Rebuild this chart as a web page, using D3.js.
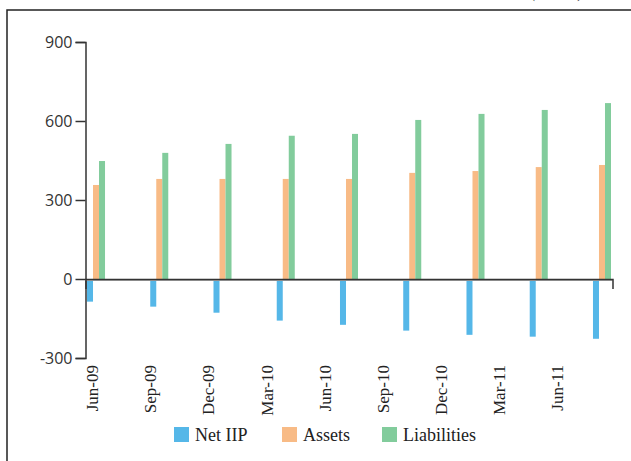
<!DOCTYPE html>
<html>
<head>
<meta charset="utf-8">
<script src="https://cdn.jsdelivr.net/npm/d3@7"></script>
<style>
  html, body { margin: 0; padding: 0; background: #fff; }
  svg { display: block; }
</style>
</head>
<body>
<svg id="chart" width="631" height="461"></svg>
<script>
// Quarter-end positions (US$ billion)
const quarters = ["Jun-09", "Sep-09", "Dec-09", "Mar-10", "Jun-10", "Sep-10", "Dec-10", "Mar-11", "Jun-11"];
const netIIP      = [-86, -105, -128, -158, -174, -196, -212, -219, -227];
const assets      = [357, 380, 380, 380, 380, 403, 410, 425, 433];
const liabilities = [448, 479, 513, 544, 551, 604, 627, 642, 668];
const seriesNames = ["Net IIP", "Assets", "Liabilities"];
const seriesColors = ["#55b7e8", "#f8bb86", "#82cc9c"];
const yTicks = [-300, 0, 300, 600, 900];

const svg = d3.select("#chart");
const serif = "'Liberation Serif', 'DejaVu Serif', serif";
const sans = "'Open Sans', 'Noto Sans', sans-serif";

// outer frame (open to the right and bottom)
svg.append("path")
  .attr("d", "M7,461 L7,10 L631,10")
  .attr("fill", "none").attr("stroke", "#222").attr("stroke-width", 1.5);

// unit note at the top right, sitting above the frame
svg.append("text")
  .attr("x", 582).attr("y", -2)
  .attr("text-anchor", "end")
  .style("font-family", serif).style("font-size", "14px").attr("fill", "#333")
  .text("(US$ bn)");

const axisLeftX = 85.5, axisRightX = 612.5;
const y = d3.scaleLinear().domain([-300, 900]).range([358, 42]);

// bar groups
const x0 = d3.scaleBand().domain(quarters).range([87, 611]).paddingInner(0.715).paddingOuter(0);
const x1 = d3.scaleBand().domain(seriesNames).range([0, x0.bandwidth()]);
const rows = quarters.map((q, i) => ({ q, values: [netIIP[i], assets[i], liabilities[i]] }));

const groups = svg.append("g").selectAll("g").data(rows).join("g")
  .attr("transform", d => `translate(${x0(d.q)},0)`);
groups.selectAll("rect")
  .data(d => d.values.map((v, k) => ({ k, v })))
  .join("rect")
  .attr("x", d => x1(seriesNames[d.k]))
  .attr("width", x1.bandwidth())
  .attr("y", d => y(Math.max(0, d.v)))
  .attr("height", d => Math.abs(y(d.v) - y(0)))
  .attr("fill", d => seriesColors[d.k]);

// y axis
const yAxis = svg.append("g")
  .attr("transform", `translate(${axisLeftX},0)`)
  .call(d3.axisLeft(y).tickValues(yTicks).tickSize(10).tickPadding(3).tickFormat(d => String(d)));
yAxis.select(".domain").attr("stroke", "#333").attr("stroke-width", 1.5);
yAxis.selectAll(".tick line").attr("stroke", "#333").attr("stroke-width", 1.5);
yAxis.selectAll(".tick text")
  .style("font-family", sans).style("font-size", "16px").attr("fill", "#333");

// zero line
const xLine = d3.scaleLinear().domain([0, 1]).range([axisLeftX, axisRightX]);
svg.append("line")
  .attr("x1", xLine(0)).attr("x2", xLine(1))
  .attr("y1", y(0) + 1.5).attr("y2", y(0) + 1.5)
  .attr("stroke", "#aaa").attr("stroke-width", 1.2);
const zeroAxis = svg.append("g")
  .attr("transform", `translate(0,${y(0)})`)
  .call(d3.axisBottom(xLine).tickValues([]).tickSizeOuter(10));
zeroAxis.select(".domain").attr("stroke", "#333").attr("stroke-width", 1.5);

// category labels
const xLab = d3.scalePoint().domain(quarters).range([91.7, 556.7]);
const xAxis = svg.append("g")
  .attr("transform", `translate(0,${y(-300)})`)
  .call(d3.axisBottom(xLab).tickSize(0));
xAxis.select(".domain").remove();
xAxis.selectAll(".tick text")
  .attr("transform", "rotate(-90)")
  .attr("x", -7).attr("y", 0).attr("dy", "0.35em")
  .style("text-anchor", "end")
  .style("font-family", serif).style("font-size", "17px").attr("fill", "#222");

// legend
const legendX = [174, 282, 382];
const legend = svg.append("g").selectAll("g").data(seriesNames).join("g")
  .attr("transform", (d, i) => `translate(${legendX[i]},427)`);
legend.append("rect").attr("width", 15).attr("height", 15)
  .attr("fill", (d, i) => seriesColors[i]);
legend.append("text").attr("x", 21).attr("y", 14)
  .style("font-family", serif).style("font-size", "18px").attr("fill", "#222")
  .text(d => d);
</script>
</body>
</html>
